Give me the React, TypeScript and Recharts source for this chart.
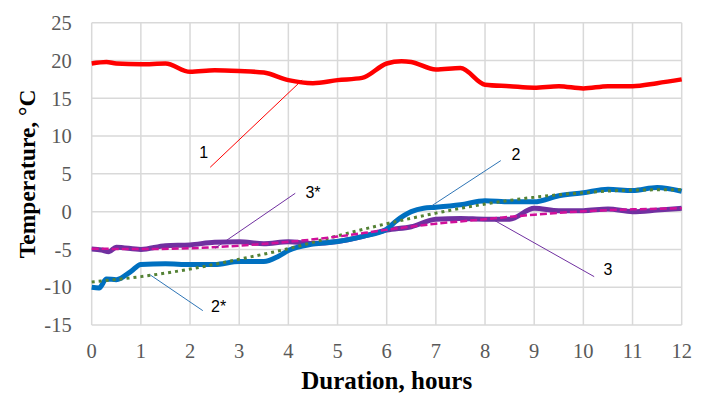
import { LineChart, Line, XAxis, YAxis, CartesianGrid, ReferenceLine, ReferenceDot } from 'recharts'

const hours1 = [0, 0.3, 0.5, 1, 1.5, 2, 2.5, 3, 3.5, 4, 4.5, 5, 5.5, 6, 6.3, 6.5, 7, 7.5, 8, 8.5, 9, 9.5, 10, 10.5, 11, 11.5, 12]
const temp1 = [19.6, 19.8, 19.6, 19.5, 19.6, 18.5, 18.7, 18.6, 18.4, 17.4, 17.0, 17.4, 17.7, 19.6, 19.9, 19.8, 18.8, 19.0, 16.8, 16.6, 16.4, 16.6, 16.3, 16.6, 16.6, 17.0, 17.5]

const hours2 = [0, 0.15, 0.3, 0.5, 0.8, 1, 1.5, 2, 2.5, 3, 3.5, 3.8, 4, 4.5, 5, 5.5, 6, 6.2, 6.5, 6.75, 7, 7.5, 8, 8.5, 9, 9.5, 10, 10.5, 11, 11.5, 12]
const temp2 = [-10.0, -10.1, -8.9, -9.0, -7.9, -7.0, -6.9, -7.0, -7.0, -6.6, -6.6, -5.9, -5.15, -4.3, -3.95, -3.3, -2.3, -1.2, 0, 0.45, 0.57, 0.9, 1.45, 1.3, 1.3, 2.1, 2.5, 2.95, 2.8, 3.2, 2.7]

const hours3 = [0, 0.2, 0.35, 0.5, 1, 1.5, 2, 2.5, 3, 3.5, 4, 4.5, 5, 5.5, 6, 6.5, 7, 7.5, 8, 8.5, 9, 9.5, 10, 10.5, 11, 11.5, 12]
const temp3 = [-4.95, -5.07, -5.3, -4.7, -5.0, -4.5, -4.4, -4.05, -4.0, -4.25, -4.0, -4.2, -3.95, -3.3, -2.45, -2.0, -1.0, -0.9, -1.0, -1.0, 0.45, 0.13, 0.13, 0.35, 0, 0.2, 0.45]

// trend lines 2* and 3*
const trendHours = [0, 1, 2, 3, 4, 5, 6, 7, 8, 9, 10, 11, 12]
const trend2 = [-9.3, -8.6, -7.6, -6.3, -4.9, -3.2, -1.6, -0.2, 1.0, 1.9, 2.5, 2.85, 2.9]
const trend3 = [-4.9, -4.95, -4.85, -4.5, -4.0, -3.3, -2.4, -1.6, -1.0, -0.4, 0.05, 0.3, 0.45]

const xTicks = [0, 1, 2, 3, 4, 5, 6, 7, 8, 9, 10, 11, 12]
const yTicks = [-15, -10, -5, 0, 5, 10, 15, 20, 25]

const toData = (hs: number[], vs: number[]) => hs.map((t, i) => ({ t, v: vs[i] }))

// callout leader lines, in data units: label pos, line start, line end
const callouts = [
  { text: '1', color: '#ff0000', at: [2.28, 7.8], from: [2.41, 5.87], to: [4.28, 17.42] },
  { text: '2', color: '#2e75b6', at: [8.63, 7.6], from: [8.32, 6.75], to: [6.91, 0.75] },
  { text: '3', color: '#7030a0', at: [10.5, -7.7], from: [10.22, -8.6], to: [8.2, -1.19] },
  { text: '3*', color: '#7030a0', at: [4.5, 2.5], from: [4.14, 2.43], to: [2.51, -4.84] },
  { text: '2*', color: '#2e75b6', at: [2.58, -12.6], from: [2.26, -13.1], to: [1.19, -8.37] },
]

const serif = '"Liberation Serif", "Times New Roman", serif'

const XTick = ({ x, y, payload }: any) => (
  <text x={x} y={y} dy="0.71em" textAnchor="middle" fontFamily={serif} fontSize={20.5} fill="#595959">
    {payload.value}
  </text>
)

const YTick = ({ x, y, payload }: any) => (
  <text x={x} y={y} dy="0.355em" textAnchor="end" fontFamily={serif} fontSize={20.5} fill="#595959">
    {payload.value}
  </text>
)

export default function App() {
  return (
    <div style={{ width: 709, height: 396, fontFamily: serif }}>
      <style>{'body{margin:0}'}</style>
      <LineChart width={709} height={396} margin={{ top: 22.7, right: 27.3, left: 39.7, bottom: 31 }}>
        <CartesianGrid stroke="#d9d9d9" strokeWidth={1.5} />
        <XAxis
          type="number"
          dataKey="t"
          domain={[0, 12]}
          ticks={xTicks}
          tick={<XTick />}
          tickLine={false}
          axisLine={false}
          tickMargin={12}
          height={40}
          label={{
            content: ({ viewBox }: any) => (
              <text x={viewBox.x + viewBox.width / 2} y={viewBox.y + 64} textAnchor="middle"
                fontFamily={serif} fontWeight={700} fontSize={25} fill="#000">
                Duration, hours
              </text>
            ),
          }}
        />
        <YAxis
          type="number"
          domain={[-15, 25]}
          ticks={yTicks}
          tick={<YTick />}
          tickLine={false}
          axisLine={false}
          tickMargin={14}
          width={52}
          label={{
            content: ({ viewBox }: any) => (
              <text transform={`translate(${viewBox.x - 13},${viewBox.y + viewBox.height / 2}) rotate(-90)`}
                textAnchor="middle" dominantBaseline="central"
                fontFamily={serif} fontWeight={700} fontSize={23.5} fill="#000">
                Temperature, °C
              </text>
            ),
          }}
        />
        <Line data={toData(hours1, temp1)} dataKey="v" type="monotone" stroke="#ff0000" strokeWidth={4.5}
          dot={false} activeDot={false} isAnimationActive={false} />
        <Line data={toData(hours3, temp3)} dataKey="v" type="monotone" stroke="#7030a0" strokeWidth={5}
          dot={false} activeDot={false} isAnimationActive={false} />
        <Line data={toData(hours2, temp2)} dataKey="v" type="monotone" stroke="#0070c0" strokeWidth={5}
          dot={false} activeDot={false} isAnimationActive={false} />
        <Line data={toData(trendHours, trend2)} dataKey="v" type="monotone" stroke="#548235" strokeWidth={3}
          strokeDasharray="3 4" dot={false} activeDot={false} isAnimationActive={false} />
        <Line data={toData(trendHours, trend3)} dataKey="v" type="monotone" stroke="#d0109a" strokeWidth={2.5}
          strokeDasharray="7 3" dot={false} activeDot={false} isAnimationActive={false} />
        {callouts.map((c) => (
          <ReferenceLine key={'l' + c.text}
            segment={[{ x: c.from[0], y: c.from[1] }, { x: c.to[0], y: c.to[1] }]}
            stroke={c.color} strokeWidth={1} />
        ))}
        {callouts.map((c) => (
          <ReferenceDot key={'d' + c.text} x={c.at[0]} y={c.at[1]} r={0}
            shape={(p: any) => (
              <text x={p.cx} y={p.cy} textAnchor="middle" dominantBaseline="central"
                fontFamily='"Liberation Sans", Arial, sans-serif' fontSize={16} fill="#000">
                {c.text}
              </text>
            )} />
        ))}
      </LineChart>
    </div>
  )
}
